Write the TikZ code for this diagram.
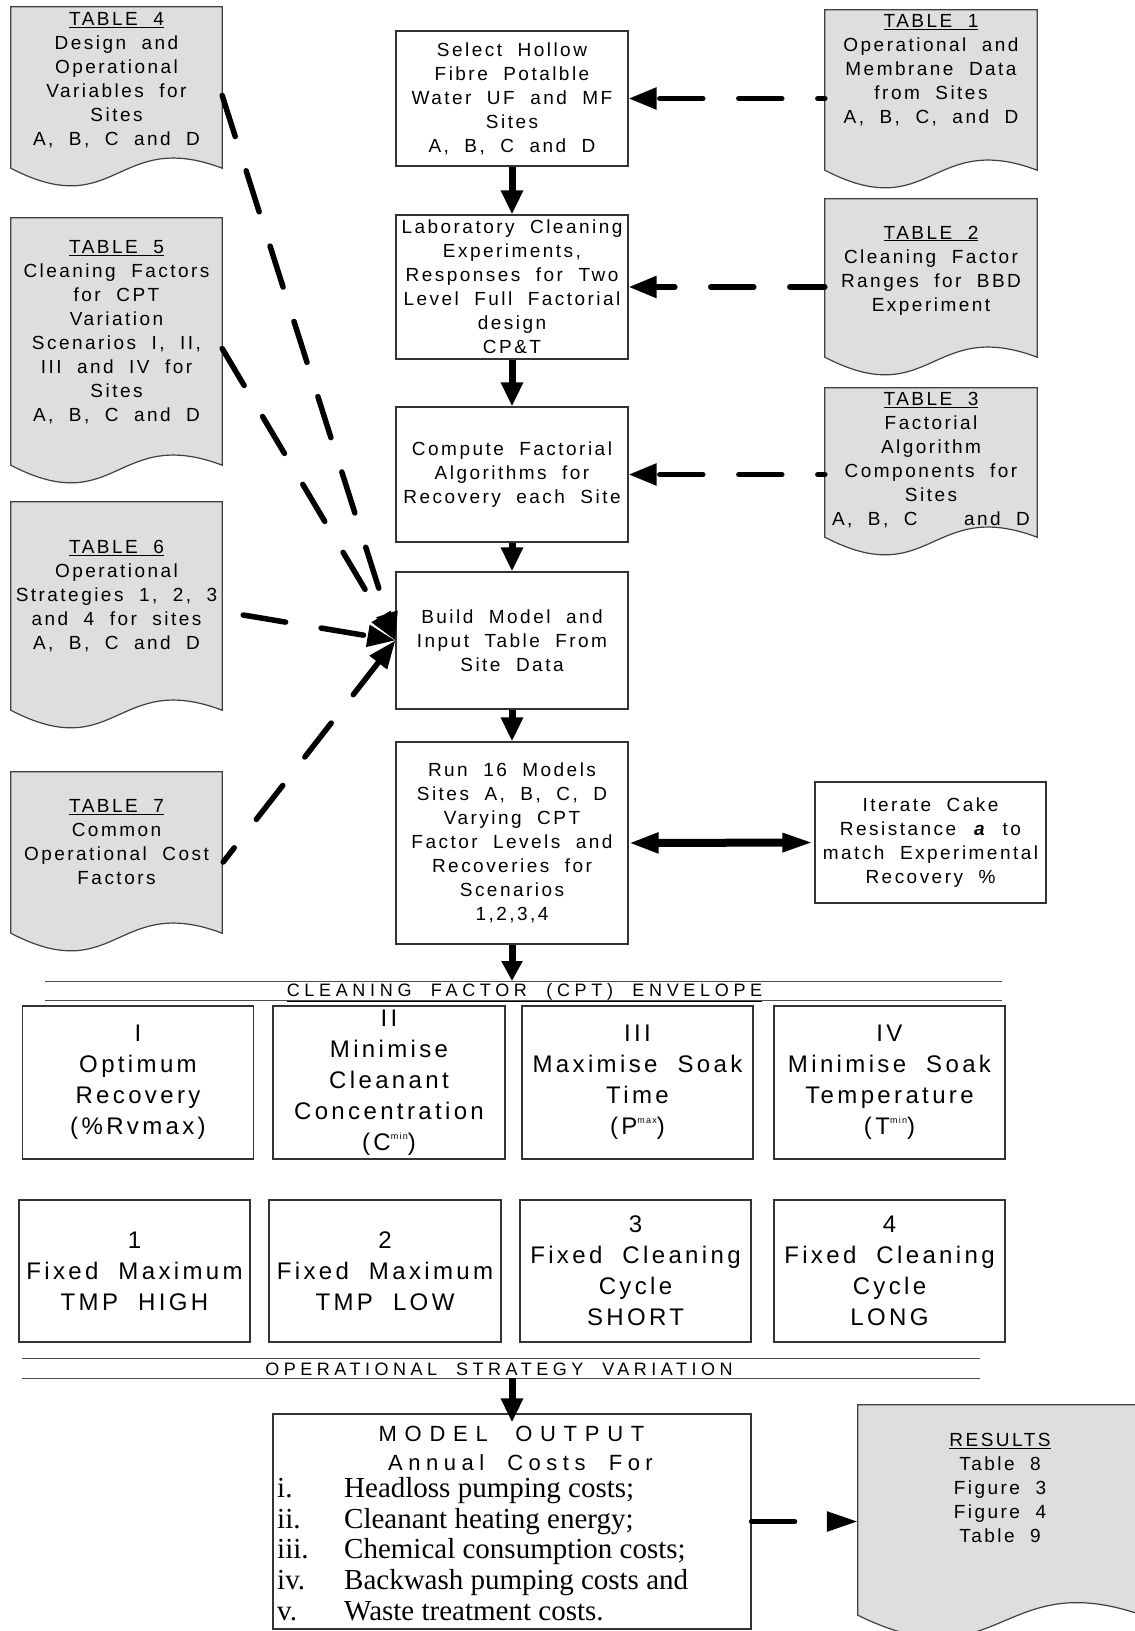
\documentclass[tikz,border=0pt]{standalone}
\usepackage{fontspec}
\setmainfont{Liberation Sans}[LetterSpace=13,WordSpace=2.0]
\newfontfamily\lserif{Liberation Serif}
\usetikzlibrary{arrows.meta,calc}
\newcommand\fsz[2]{\fontsize{#1}{#2}\selectfont}
\newcommand\LS[1]{\addfontfeature{LetterSpace=#1}}
\newcommand\sps[1]{\raisebox{11pt}{\fsz{9}{9}#1}}
\newcommand\docshape[3]{%
  \draw[docsh] (#1.north west) -- (#1.north east) -- (#1.south east)
    .. controls ($(#1.south)+(0,-#2)$) and ($(#1.south)+(0,#3)$) .. (#1.south west) -- cycle;}
\begin{document}
\begin{tikzpicture}[x=1pt,y=-1pt,
  docrect/.style={inner sep=0pt,draw=none},
  docsh/.style={fill=black!13,draw=black!75,line width=1.2pt},
  dtext/.style={align=center,inner sep=0pt,font=\fsz{19}{24}},
  pbox/.style={draw=black!80,line width=1.2pt,inner sep=0pt,align=center,font=\fsz{19}{24},minimum width=232pt},
  sbox/.style={draw=black!80,line width=1.2pt,inner sep=0pt,align=center,font=\fsz{24}{31}\LS{14},minimum width=231pt},
  band/.style={line width=1pt,draw=black!70},
  solidarr/.style={line width=7pt,-{Triangle[length=24pt,width=21pt]}},
  dasharr/.style={line width=5.5pt,line cap=round,dash pattern=on 43pt off 36pt,-{Triangle[length=28pt,width=21pt]}},
  listline/.style={anchor=base west,inner sep=0pt,font=\lserif\fsz{29}{31}}
]
\useasboundingbox (0,0) rectangle (1135,1631);

% ---------- left documents ----------
\node[docrect,minimum width=211pt,minimum height=161pt] (t4) at (116.5,87.5) {};
\docshape{t4}{40}{55}
\node[dtext] (t4x) at (116.5,80) {\underline{TABLE 4}\\Design and\\Operational\\Variables for\\Sites\\A, B, C and D};

\node[docrect,minimum width=211pt,minimum height=247pt] (t5) at (116.5,341.5) {};
\docshape{t5}{40}{55}
\node[dtext] (t5x) at (116.5,332.5) {\underline{TABLE 5}\\Cleaning Factors\\for CPT\\Variation\\Scenarios I, II,\\III and IV for\\Sites\\A, B, C and D};

\node[docrect,minimum width=211pt,minimum height=208pt] (t6) at (116.5,606) {};
\docshape{t6}{40}{55}
\node[dtext] (t6x) at (116.5,596.5) {\underline{TABLE 6}\\Operational\\Strategies 1, 2, 3\\and 4 for sites\\A, B, C and D};

\node[docrect,minimum width=211pt,minimum height=161pt] (t7) at (116.5,852.5) {};
\docshape{t7}{40}{55}
\node[dtext] (t7x) at (116.5,842.5) {\underline{TABLE 7}\\Common\\Operational Cost\\Factors};

% ---------- right documents ----------
\node[docrect,minimum width=212pt,minimum height=160pt] (t1) at (931,90) {};
\docshape{t1}{40}{55}
\node[dtext] (t1x) at (931,70) {\underline{TABLE 1}\\Operational and\\Membrane Data\\from Sites\\A, B, C, and D};

\node[docrect,minimum width=212pt,minimum height=158pt] (t2) at (931,278) {};
\docshape{t2}{40}{55}
\node[dtext] (t2x) at (931,270.5) {\underline{TABLE 2}\\Cleaning Factor\\Ranges for BBD\\Experiment};

\node[docrect,minimum width=212pt,minimum height=149pt] (t3) at (931,462.5) {};
\docshape{t3}{40}{55}
\node[dtext] (t3x) at (931,460) {\underline{TABLE 3}\\Factorial\\Algorithm\\Components for\\Sites\\A, B, C\ \ \ and D};

\node[docrect,minimum width=284pt,minimum height=210pt] (res) at (1000,1510) {};
\docshape{res}{50}{70}
\node[dtext] (resx) at (1000,1488) {\underline{RESULTS}\\Table 8\\Figure 3\\Figure 4\\Table 9};

% ---------- central column ----------
\node[pbox,minimum height=135pt] (b1) at (512,98.5) {Select Hollow\\Fibre Potalble\\Water UF and MF\\Sites\\A, B, C and D};
\node[pbox,minimum height=144pt] (b2) at (512,287) {Laboratory Cleaning\\Experiments,\\Responses for Two\\Level Full Factorial\\design\\CP\&T};
\node[pbox,minimum height=135pt] (b3) at (512,474.5) {Compute Factorial\\Algorithms for\\Recovery each Site};
\node[pbox,minimum height=137pt] (b4) at (512,640.5) {Build Model and\\Input Table From\\Site Data};
\node[pbox,minimum height=202pt] (b5) at (512,843) {Run 16 Models\\Sites A, B, C, D\\Varying CPT\\Factor Levels and\\Recoveries for\\Scenarios\\1,2,3,4};
\node[pbox,minimum width=231pt,minimum height=121pt] (it) at (930.5,842.5) {Iterate Cake\\Resistance \textbf{\textit{a}} to\\match Experimental\\Recovery \%};

% ---------- cleaning factor envelope ----------
\coordinate (ca) at (45,981);  \coordinate (cb) at (1002,981);
\coordinate (cc) at (45,1000); \coordinate (cd) at (1002,1000);
\draw[band] (ca) -- (cb);
\draw[band] (cc) -- (cd);
\node[anchor=base,inner sep=0pt,font=\fsz{18}{20}\LS{26}] (cpt) at (524.5,996) {\underline{CLEANING FACTOR (CPT) ENVELOPE}};

\node[sbox,minimum height=153pt] (sI) at (138,1082.5) {I\\Optimum\\Recovery\\(\%Rvmax)};
\node[sbox,minimum width=232pt,minimum height=153pt] (sII) at (389,1082.5) {II\\Minimise\\Cleanant\\Concentration\\(C\sps{min})};
\node[sbox,minimum height=153pt] (sIII) at (637.5,1082.5) {III\\Maximise Soak\\Time\\(P\sps{max})};
\node[sbox,minimum height=153pt] (sIV) at (889.5,1082.5) {IV\\Minimise Soak\\Temperature\\(T\sps{min})};

% ---------- operational strategies ----------
\node[sbox,minimum height=142pt] (p1) at (134.5,1271) {1\\Fixed Maximum\\TMP HIGH};
\node[sbox,minimum width=232pt,minimum height=142pt] (p2) at (385,1271) {2\\Fixed Maximum\\TMP LOW};
\node[sbox,minimum height=142pt] (p3) at (635.5,1271) {3\\Fixed Cleaning\\Cycle\\SHORT};
\node[sbox,minimum height=142pt] (p4) at (889.5,1271) {4\\Fixed Cleaning\\Cycle\\LONG};

\coordinate (oa) at (22,1358);  \coordinate (ob) at (980,1358);
\coordinate (oc) at (22,1378);  \coordinate (od) at (980,1378);
\draw[band] (oa) -- (ob);
\draw[band] (oc) -- (od);
\node[anchor=base,inner sep=0pt,font=\fsz{18}{20}\LS{25}] (ops) at (499,1375) {OPERATIONAL STRATEGY VARIATION};

% ---------- model output ----------
\node[draw=black!80,line width=1.2pt,inner sep=0pt,minimum width=478pt,minimum height=215pt] (mo) at (512,1521.5) {};
\node[anchor=base,inner sep=0pt,font=\fsz{22}{24}\LS{35}] (mh) at (511.5,1441) {MODEL OUTPUT};
\node[anchor=base,inner sep=0pt,font=\fsz{22}{24}\LS{25}] (ma) at (520.5,1470) {Annual Costs For};
\node[listline] (l1) at (277,1497) {\makebox[67pt][l]{i.}Headloss pumping costs;};
\node[listline] (l2) at (277,1528) {\makebox[67pt][l]{ii.}Cleanant heating energy;};
\node[listline] (l3) at (277,1558.5) {\makebox[67pt][l]{iii.}Chemical consumption costs;};
\node[listline] (l4) at (277,1589) {\makebox[67pt][l]{iv.}Backwash pumping costs and};
\node[listline] (l5) at (277,1620) {\makebox[67pt][l]{v.}Waste treatment costs.};

% ---------- connectors ----------
\draw[solidarr] (b1.south) -- (b2.north);
\draw[solidarr] (b2.south) -- (b3.north);
\draw[solidarr] (b3.south) -- (b4.north);
\draw[solidarr] (b4.south) -- (b5.north);
\draw[solidarr,-{Triangle[length=20pt,width=20pt]}] (b5.south) -- (b5.south |- ca);
\draw[solidarr] (mo.north |- oc) -- ($(mo.north)+(0,9)$);

\draw[dasharr,dash phase=36pt] (b1.east -| t1.west) -- (b1.east);
\draw[dasharr,dash phase=8pt] (b2.east -| t2.west) -- (b2.east);
\draw[dasharr,dash phase=36pt] (b3.east -| t3.west) -- (b3.east);

\draw[dasharr] ($(t4.east)+(0,8)$) -- (b4.west);
\draw[dasharr] ($(t5.east)+(0,7)$) -- (b4.west);
\draw[dasharr] ($(t6.east)+(21,9)$) -- (b4.west);
\draw[dasharr,dash phase=25pt] ($(t7.east)+(1,9.5)$) -- (b4.west);

\draw[line width=8pt,{Triangle[length=30pt,width=19pt]}-{Triangle[length=32pt,width=17pt]}] (b5.east) -- (it.west);

\draw[dasharr,-{Triangle[length=31pt,width=19pt]}] (mo.east) -- (mo.east -| res.west);
\end{tikzpicture}
\end{document}
